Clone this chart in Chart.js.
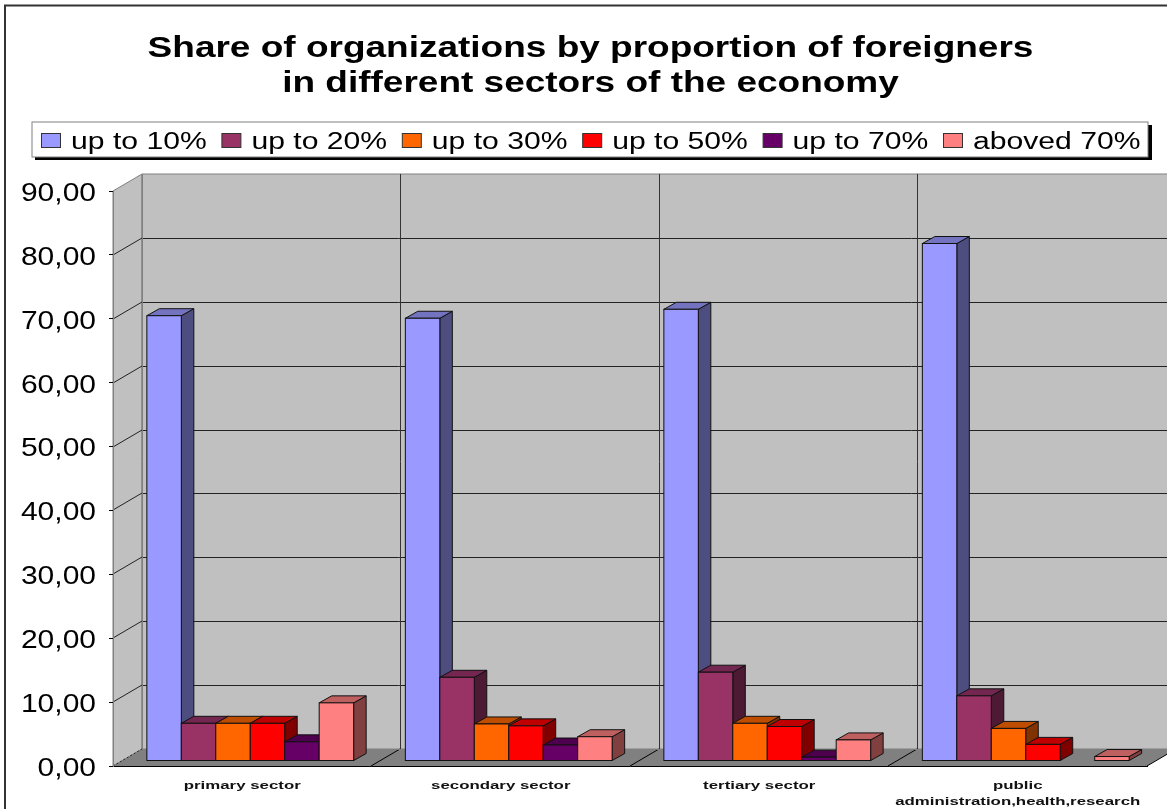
<!DOCTYPE html>
<html>
<head>
<meta charset="utf-8">
<style>html,body{margin:0;padding:0;background:#fff;overflow:hidden}canvas{display:block}</style>
<script src="https://cdn.jsdelivr.net/npm/chart.js@4"></script>
</head>
<body>
<canvas id="c" width="1167" height="809"></canvas>
<script>
const titleLines = ["Share of organizations by proportion of foreigners", "in different sectors of the economy"];
const categories = [["primary sector"], ["secondary sector"], ["tertiary sector"], ["public", "administration,health,research"]];
const seriesNames = ["up to 10%", "up to 20%", "up to 30%", "up to 50%", "up to 70%", "aboved 70%"];
const upTo10 = [69.7, 69.3, 70.7, 81.0];
const upTo20 = [5.9, 13.1, 13.9, 10.2];
const upTo30 = [5.9, 5.8, 5.9, 5.1];
const upTo50 = [5.9, 5.5, 5.4, 2.6];
const upTo70 = [3.0, 2.5, 0.6, 0];
const above70 = [9.1, 3.8, 3.3, 0.7];
const seriesValues = [upTo10, upTo20, upTo30, upTo50, upTo70, above70];
const frontColors = ["#9999ff", "#993366", "#ff6600", "#ff0000", "#660066", "#ff8080"];
const topColors = ["#7373bf", "#732650", "#bf4d00", "#bf0000", "#4d004d", "#bf6060"];
const sideColors = ["#4d4d80", "#4d1a33", "#803300", "#800000", "#330033", "#804040"];

const ctxRef = document.getElementById('c').getContext('2d');
let stretch = 1;
const nativeFill = ctxRef.fillText.bind(ctxRef);
ctxRef.fillText = function (t, x, y) {
  if (stretch === 1) { nativeFill(t, x, y); return; }
  ctxRef.save();
  ctxRef.translate(x, y);
  ctxRef.scale(stretch, 1);
  nativeFill(t, 0, 0);
  ctxRef.restore();
};
const FONT = '"Liberation Sans", Arial, sans-serif';
const wall = {dx: 29, dy: -17};
const barShift = {dx: 8, dy: -5};
const barDepth = {dx: 12.5, dy: -7};

function poly(ctx, pts, fill, stroke, lw) {
  ctx.beginPath();
  pts.forEach((p, i) => i ? ctx.lineTo(p[0], p[1]) : ctx.moveTo(p[0], p[1]));
  ctx.closePath();
  if (fill) { ctx.fillStyle = fill; ctx.fill(); }
  if (stroke) { ctx.strokeStyle = stroke; ctx.lineWidth = lw || 1; ctx.stroke(); }
}
function line(ctx, x1, y1, x2, y2, c) {
  ctx.beginPath(); ctx.moveTo(x1, y1); ctx.lineTo(x2, y2);
  ctx.strokeStyle = c; ctx.lineWidth = 1; ctx.stroke();
}

const scene = {
  id: 'scene',
  beforeDraw(chart) {
    const ctx = chart.ctx, xs = chart.scales.x, ys = chart.scales.y;
    [[ys, 1.2], [xs, 1.53]].forEach(([s, k]) => {
      if (s._wrapped) return;
      const orig = s.drawLabels;
      s.drawLabels = function (a) { stretch = k; orig.call(this, a); stretch = 1; };
      s._wrapped = true;
    });
    ctx.save();
    ctx.fillStyle = '#fff'; ctx.fillRect(0, 0, chart.width, chart.height);
    // frame
    ctx.strokeStyle = '#333'; ctx.lineWidth = 2;
    ctx.strokeRect(5, 5.5, chart.width + 20, chart.height + 20);
    // title
    ctx.fillStyle = '#000'; ctx.textAlign = 'center'; ctx.textBaseline = 'alphabetic';
    ctx.font = 'bold 30px ' + FONT;
    stretch = 1.233;
    titleLines.forEach((t, i) => ctx.fillText(t, 590.5, 57 + i * 35));
    stretch = 1;
    // legend
    ctx.fillStyle = '#000'; ctx.fillRect(35, 125, 1117, 35);
    ctx.fillStyle = '#fff'; ctx.fillRect(32, 122, 1116, 35);
    ctx.strokeStyle = '#808080'; ctx.lineWidth = 1; ctx.strokeRect(32, 122, 1116, 35);
    ctx.font = '23px ' + FONT; ctx.textAlign = 'left'; ctx.textBaseline = 'alphabetic';
    seriesNames.forEach((n, i) => {
      const sx = 41 + i * 180.4;
      ctx.fillStyle = frontColors[i]; ctx.fillRect(sx + .5, 133.5, 19, 14);
      ctx.strokeStyle = '#333'; ctx.strokeRect(sx + .5, 133.5, 19, 14);
      ctx.fillStyle = '#000'; stretch = 1.31;
      ctx.fillText(n, sx + 30, 149);
      stretch = 1;
    });
    // walls
    const L = xs.left, R = xs.right, B = ys.getPixelForValue(0), T = ys.getPixelForValue(ys.max);
    const d = wall, W = chart.width + 20, cw = (R - L) / categories.length;
    poly(ctx, [[L, T], [L + d.dx, T + d.dy], [L + d.dx, B + d.dy], [L, B]], '#c0c0c0', '#808080');
    poly(ctx, [[L + d.dx, T + d.dy], [W, T + d.dy], [W, B + d.dy], [L + d.dx, B + d.dy]], '#c0c0c0', '#808080');
    poly(ctx, [[L, B], [R, B], [R + d.dx, B + d.dy], [L + d.dx, B + d.dy]], '#808080', null);
    ys.ticks.forEach(t => {
      if (t.value === 0) return;
      const y = Math.round(ys.getPixelForValue(t.value));
      if (t.value !== ys.max) {
        line(ctx, L, y, L + d.dx, y + d.dy, '#222');
        line(ctx, L + d.dx, y + d.dy + .5, W, y + d.dy + .5, '#222');
      }
    });
    for (let i = 0; i <= categories.length; i++) {
      const x = Math.floor(L + i * cw);
      if (i > 0 && i < categories.length) {
        line(ctx, x + d.dx + .5, T + d.dy, x + d.dx + .5, B + d.dy, '#333');
      }
      if (i > 0) line(ctx, x, B, x + d.dx, B + d.dy, '#000');
    }
    line(ctx, L + d.dx + .5, T + d.dy, L + d.dx + .5, B + d.dy, '#808080');
    line(ctx, L + d.dx, B + d.dy + .5, chart.width + 1, B + d.dy + .5, '#808080');
    ctx.setLineDash([2, 2]);
    line(ctx, L, B, L + d.dx, B + d.dy, '#222');
    ctx.setLineDash([]);
    ctx.restore();
  },
  beforeDatasetsDraw(chart) {
    const ctx = chart.ctx;
    ctx.save();
    ctx.translate(barShift.dx, barShift.dy);
    seriesNames.forEach((_, di) => {
      const meta = chart.getDatasetMeta(di);
      meta.data.forEach((el, i) => {
        if (!seriesValues[di][i]) return;
        const p = el.getProps(['x', 'y', 'base', 'width']);
        const l = p.x - p.width / 2, r = p.x + p.width / 2, dx = barDepth.dx, dy = barDepth.dy;
        poly(ctx, [[r, p.y], [r + dx, p.y + dy], [r + dx, p.base + dy], [r, p.base]], sideColors[di], '#111');
        poly(ctx, [[l, p.y], [l + dx, p.y + dy], [r + dx, p.y + dy], [r, p.y]], topColors[di], '#111');
        el.draw(ctx);
        ctx.strokeStyle = '#111'; ctx.lineWidth = 1;
        ctx.strokeRect(l, p.y, r - l, p.base - p.y);
      });
    });
    ctx.restore();
    return false;
  }
};

new Chart(ctxRef, {
  type: 'bar',
  data: {
    labels: categories,
    datasets: seriesNames.map((n, i) => ({
      label: n,
      data: seriesValues[i],
      backgroundColor: frontColors[i],
      borderWidth: 0,
      barPercentage: 1,
      categoryPercentage: 0.8
    }))
  },
  options: {
    responsive: false,
    animation: false,
    devicePixelRatio: 1,
    layout: {padding: {left: 13, right: 20, top: 191, bottom: 0}},
    plugins: {legend: {display: false}, title: {display: false}, tooltip: {enabled: false}},
    scales: {
      x: {
        grid: {display: false},
        border: {display: true, color: '#000', width: 1},
        ticks: {color: '#111', font: {family: FONT, size: 11, weight: 'bold', lineHeight: 1.45}, padding: 4, maxRotation: 0, autoSkip: false},
        afterFit(s) { s.height = 43; }
      },
      y: {
        min: 0, max: 90,
        grid: {drawOnChartArea: false, drawTicks: true, tickLength: 4, color: '#000'},
        border: {display: true, color: '#808080', width: 1},
        ticks: {stepSize: 10, color: '#000', padding: 13, labelOffset: 3, font: {family: FONT, size: 25},
          callback: v => v.toFixed(2).replace('.', ',')},
        afterFit(s) { s.width = 100; }
      }
    }
  },
  plugins: [scene]
});
</script>
</body>
</html>
